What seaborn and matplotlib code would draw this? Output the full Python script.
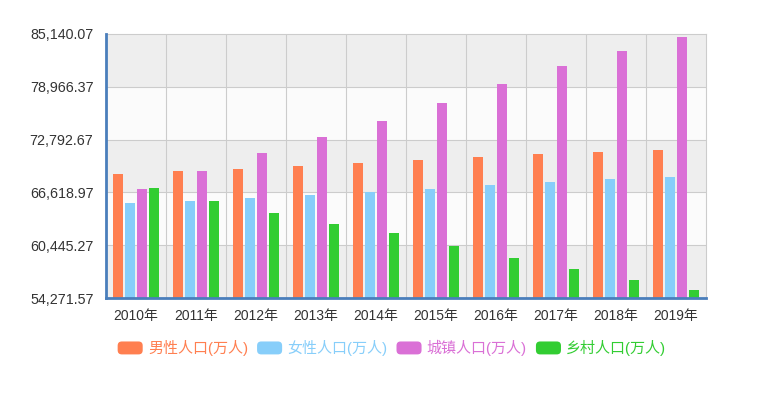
import matplotlib
matplotlib.use("Agg")
import matplotlib.pyplot as plt
import seaborn as sns
import pandas as pd
import numpy as np
from matplotlib.patches import FancyBboxPatch
from matplotlib.legend_handler import HandlerPatch
import matplotlib.patches as mpatches

years = ["2010年", "2011年", "2012年", "2013年", "2014年", "2015年", "2016年", "2017年", "2018年", "2019年"]
series_names = ["男性人口(万人)", "女性人口(万人)", "城镇人口(万人)", "乡村人口(万人)"]
male = [68748, 69068, 69395, 69728, 70079, 70414, 70815, 71137, 71351, 71527]
female = [65343, 65667, 66009, 66344, 66703, 67048, 67456, 67871, 68187, 68478]
urban = [66978, 69079, 71182, 73111, 74916, 77116, 79298, 81347, 83137, 84843]
rural = [67113, 65656, 64222, 62961, 61866, 60346, 58973, 57661, 56401, 55162]
y_ticks = [54271.57, 60445.27, 66618.97, 72792.67, 78966.37, 85140.07]
colors = ["#ff7f50", "#87cefa", "#da70d6", "#32cd32"]

sns.set_style("white")
plt.rcParams['font.family'] = ['Liberation Sans', 'Noto Sans CJK SC', 'DejaVu Sans']

rows = []
for name, vals in zip(series_names, [male, female, urban, rural]):
    for y, v in zip(years, vals):
        rows.append({"year": y, "series": name, "value": v})
df = pd.DataFrame(rows)

fig = plt.figure(figsize=(7.6, 3.93), dpi=100)
ax = fig.add_axes([106/760, 1-298/393, 600/760, 264/393])

# alternating bands
band_cols = ["#eeeeee", "#fbfbfb"]
for i in range(len(y_ticks)-1):
    c = band_cols[0] if (len(y_ticks)-2-i) % 2 == 0 else band_cols[1]
    ax.axhspan(y_ticks[i], y_ticks[i+1], color=c, zorder=0, lw=0)

sns.barplot(data=df, x="year", y="value", hue="series", palette=colors,
            width=0.78, gap=0.15, ax=ax, legend=False, zorder=3, saturation=1,
            linewidth=0, edgecolor="none")

ax.set_ylim(y_ticks[0], y_ticks[-1])
ax.set_xlim(-0.5, len(years)-0.5)
ax.set_yticks(y_ticks)
ax.set_yticklabels([f"{v:,.2f}" for v in y_ticks])
for t in y_ticks[1:-1]:
    ax.axhline(t, color="#cccccc", lw=0.8, zorder=1)
for b in np.arange(0.5, len(years)-0.5, 1):
    ax.axvline(b, color="#cccccc", lw=0.8, zorder=1)

ax.set_xticks(range(len(years)))
ax.set_xticklabels(years)
ax.set_xticks(np.arange(-0.5, len(years), 1), minor=True)
ax.tick_params(axis="x", which="major", length=0, pad=8, labelsize=10, labelcolor="#333333")
ax.tick_params(axis="x", which="minor", length=4, width=1, color="#4a7ebb", direction="out")
ax.tick_params(axis="y", length=0, pad=9, labelsize=10.3, labelcolor="#333333")
ax.set_xlabel("")
ax.set_ylabel("")

for s in ["top", "right"]:
    ax.spines[s].set_color("#cccccc")
    ax.spines[s].set_linewidth(0.8)
for s in ["left", "bottom"]:
    ax.spines[s].set_color("#4a7ebb")
    ax.spines[s].set_linewidth(2)
    ax.spines[s].set_zorder(5)


class RoundHandler(HandlerPatch):
    def create_artists(self, legend, orig_handle, xdescent, ydescent, width, height, fontsize, trans):
        p = FancyBboxPatch((-xdescent, -ydescent), width, height,
                           boxstyle="round,pad=0,rounding_size=3",
                           facecolor=orig_handle.get_facecolor(), edgecolor="none",
                           transform=trans)
        return [p]


handles = [mpatches.Patch(facecolor=c) for c in colors]
leg = fig.legend(handles, series_names, loc="center", bbox_to_anchor=(392/760, 1-348/393),
                 ncol=4, frameon=False, fontsize=10.8, labelcolor=colors,
                 handler_map={mpatches.Patch: RoundHandler()},
                 handlelength=1.67, handleheight=0.95, handletextpad=0.35, columnspacing=0.6)

fig.savefig("out.png", dpi=100)
